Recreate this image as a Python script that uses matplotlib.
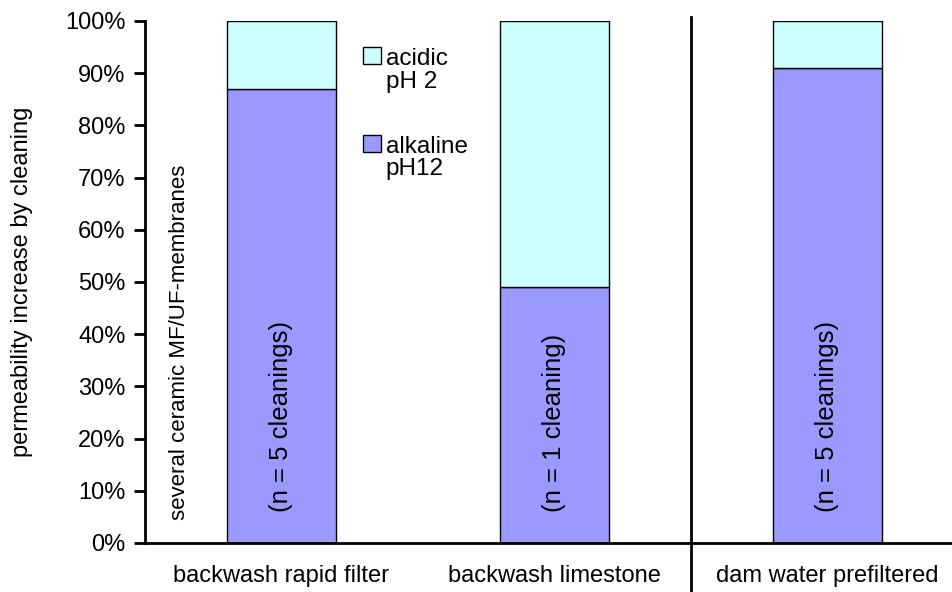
import matplotlib
matplotlib.use("Agg")
import matplotlib.pyplot as plt
from matplotlib.patches import Rectangle
from matplotlib.ticker import PercentFormatter

plt.rcParams['font.family'] = ['Liberation Sans', 'DejaVu Sans']

# data
categories = ['backwash rapid filter', 'backwash limestone', 'dam water prefiltered']
alkaline = [87, 49, 91]
acidic = [13, 51, 9]
n_labels = ['(n = 5 cleanings)', '(n = 1 cleaning)', '(n = 5 cleanings)']

col_acid = '#CCFFFF'
col_alk = '#9999FF'

fig = plt.figure(figsize=(9.53, 5.92), dpi=100)
ax = fig.add_axes([0.152, 0.0828, 0.8594, 0.8818])

x = list(range(len(categories)))
ax.bar(x, alkaline, width=0.40, color=col_alk, edgecolor='black', linewidth=1)
ax.bar(x, acidic, bottom=alkaline, width=0.40, color=col_acid, edgecolor='black', linewidth=1)

for xi, lab in zip(x, n_labels):
    ax.text(xi, 6, lab, rotation=90, ha='center', va='bottom', fontsize=18.5)

ax.text(-0.372, 4.4, 'several ceramic MF/UF-membranes', rotation=90,
        ha='center', va='bottom', fontsize=16)

ax.set_xlim(-0.5, 2.5)
ax.set_ylim(0, 100)
ax.set_yticks(range(0, 101, 10))
ax.yaxis.set_major_formatter(PercentFormatter(decimals=0))
ax.set_xticks(x)
ax.set_xticklabels(categories)
ax.tick_params(axis='x', length=0, pad=16, labelsize=17)
ax.tick_params(axis='y', length=8, width=2, direction='out', pad=6, labelsize=17)
ax.set_ylabel('permeability increase by cleaning', fontsize=17, labelpad=23)

for s in ['top', 'right']:
    ax.spines[s].set_visible(False)
for s in ['left', 'bottom']:
    ax.spines[s].set_linewidth(2)

# divider between groups
ax.axvline(1.5, ymin=-0.1, ymax=1.008, color='black', linewidth=2, clip_on=False)

# legend drawn by hand so the swatch sits next to the first line
leg = [(['acidic', 'pH 2'], col_acid, 0.934, [0.9157, 0.8716]),
       (['alkaline', 'pH12'], col_alk, 0.765, [0.747, 0.705])]
for lines, c, yy, bases in leg:
    ax.add_patch(Rectangle((0.266, yy - 0.0165), 0.022, 0.033, transform=ax.transAxes,
                           facecolor=c, edgecolor='black', linewidth=1, clip_on=False))
    for t, b in zip(lines, bases):
        ax.text(0.294, b, t, transform=ax.transAxes, ha='left', va='baseline',
                fontsize=17.5)

fig.savefig('out.png', dpi=100)
